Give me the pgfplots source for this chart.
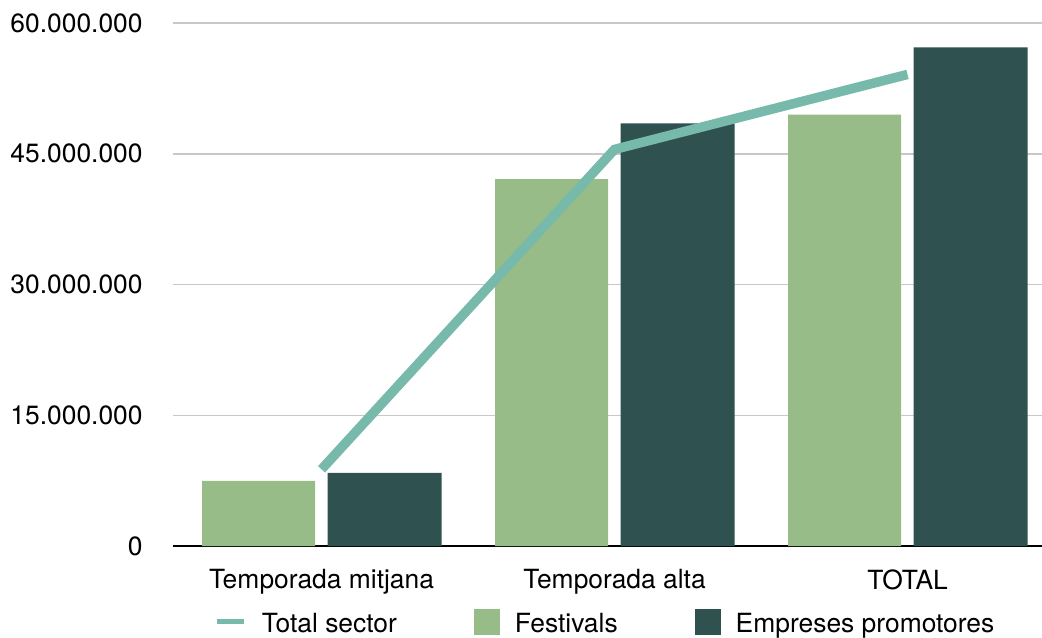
\documentclass[border=0pt]{standalone}
\usepackage{pgfplots}
\pgfplotsset{compat=1.18}
\usepackage{fontspec}
\setmainfont{TeX Gyre Heros}
\definecolor{fest}{HTML}{97BC87}
\definecolor{empr}{HTML}{2F5250}
\definecolor{linec}{HTML}{77B9AA}
\definecolor{gridc}{HTML}{C8C8C8}
\pgfplotsset{
 mylineleg/.style={legend image code/.code={\draw[##1] (0pt,1.6pt) -- (13.5pt,1.6pt);}},
 mybarleg/.style={legend image code/.code={\fill[##1] (0pt,-5pt) rectangle (13pt,8pt);}},
}
\begin{document}
\fontsize{13.2}{15}\selectfont
\begin{tikzpicture}
\begin{axis}[
 at={(0,0)}, anchor=south west,
 scale only axis, width=434.5pt, height=261.5pt,
 xmin=-0.507, xmax=2.459, ymin=0, ymax=60000000,
 separate axis lines,
 axis x line*=bottom,
 axis y line*=left,
 x axis line style={black, line width=1pt, -},
 y axis line style={draw=none},
 major tick length=0pt,
 ymajorgrids,
 grid style={gridc, line width=0.75pt},
 xtick={0,1,2},
 xticklabels={Temporada mitjana, Temporada alta, TOTAL},
 ytick={0,15000000,30000000,45000000,60000000},
 yticklabels={0,15.000.000,30.000.000,45.000.000,60.000.000},
 scaled y ticks=false,
 tick label style={font=\fontsize{13.2}{15}\selectfont},
 yticklabel style={inner sep=0pt, anchor=east, xshift=-15pt},
 xticklabel style={inner sep=0pt, anchor=north, yshift=-11.5pt},
 legend columns=3,
 legend style={draw=none, fill=none, inner sep=0pt, outer sep=0pt,
   at={(rel axis cs:0.5,0)}, anchor=north, yshift=-31.5pt, xshift=-1.5pt,
   font=\fontsize{13.2}{15}\selectfont,
   nodes={inner sep=0pt},
   /tikz/every odd column/.append style={column sep=7.5pt},
   /tikz/every even column/.append style={column sep=38.5pt}},
]
\addlegendimage{mylineleg, linec, line width=2.6pt}
\addlegendentry{Total sector}
\addplot[ybar, bar width=56.5pt, bar shift=-31.5pt, fill=fest, draw=none, mybarleg]
 coordinates {(0,7460000) (1,42100000) (2,49500000)};
\addlegendentry{Festivals}
\addplot[ybar, bar width=57pt, bar shift=31.5pt, fill=empr, draw=none, mybarleg]
 coordinates {(0,8380000) (1,48500000) (2,57200000)};
\addlegendentry{Empreses promotores}
\addplot[linec, line width=4.75pt, forget plot, line join=miter]
 coordinates {(0,8800000) (1,45500000) (2,54100000)};
\end{axis}
\pgfresetboundingbox
\path[use as bounding box] (-86.5pt,-45.5pt) rectangle (434.5pt,273pt);
\end{tikzpicture}
\end{document}
